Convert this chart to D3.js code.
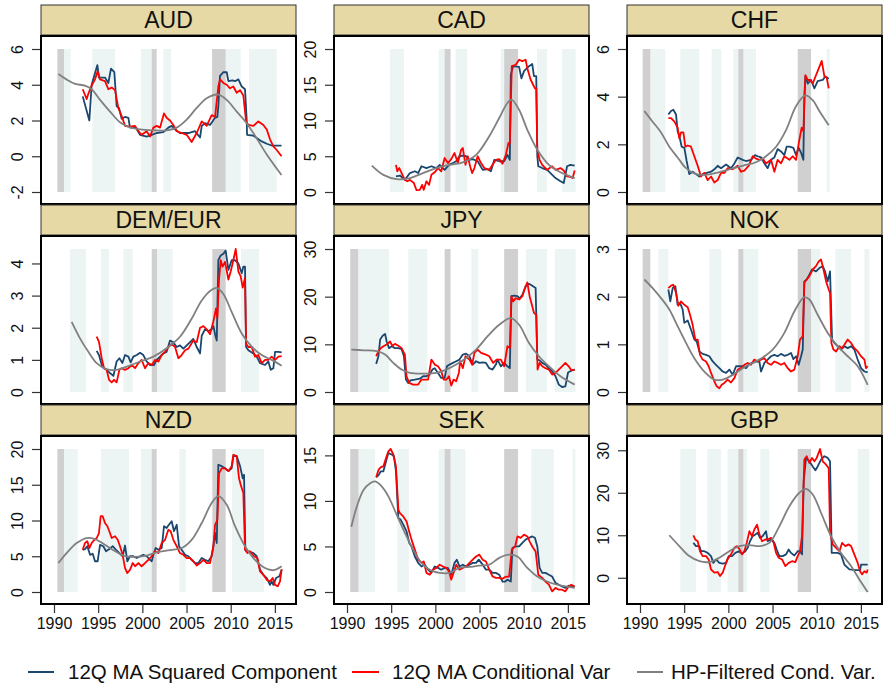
<!DOCTYPE html>
<html>
<head>
<meta charset="utf-8">
<script src="https://cdn.jsdelivr.net/npm/d3@7"></script>
<style>
  html, body { margin: 0; padding: 0; background: #ffffff; }
  svg { display: block; font-family: "Liberation Sans", Arial, sans-serif; }
</style>
</head>
<body>
<div id="chart"></div>
<script>
// ---- data: [year, value] ----
const currencies = ["AUD", "CAD", "CHF", "DEM/EUR", "JPY", "NOK", "NZD", "SEK", "GBP"];
const xTicks = [1990, 1995, 2000, 2005, 2010, 2015];

const audTicks = [-2, 0, 2, 4, 6];
const audGray = [[1990.38, 1991.13], [2001.06, 2001.62], [2007.89, 2009.43]];
const audTeal = [[1991.13, 1991.89], [1994.34, 1996.91], [1999.85, 2001.06], [2002.38, 2003.25], [2009.43, 2011.13], [2012.08, 2015.21]];
const audBlue = [[1993.25,3.35],[1994.0,2.0],[1994.26,4.0],[1994.91,5.1],[1995.09,4.4],[1995.77,4.4],[1996.15,4.1],[1996.45,4.9],[1996.83,4.7],[1997.09,2.8],[1997.36,2.7],[1997.66,2.1],[1998.04,2.2],[1998.42,2.15],[1998.6,1.6],[1999.25,1.6],[1999.74,1.2],[2000.49,1.1],[2001.06,1.2],[2001.62,1.3],[2002.38,1.35],[2002.94,1.6],[2003.32,1.7],[2003.7,1.5],[2004.26,1.3],[2005.21,1.3],[2005.96,1.4],[2006.53,1.05],[2006.72,1.7],[2007.09,1.85],[2007.66,1.75],[2008.23,2.15],[2008.49,2.2],[2008.6,2.8],[2008.79,4.5],[2009.17,4.7],[2009.55,4.7],[2009.74,4.2],[2010.19,4.25],[2010.49,4.2],[2010.87,4.3],[2011.25,3.9],[2011.62,3.75],[2011.81,2.05],[2011.85,1.2],[2012.57,1.15],[2013.51,0.83],[2014.08,0.7],[2014.64,0.6],[2015.75,0.6]];
const audRed = [[1993.25,3.75],[1993.7,3.2],[1993.89,3.5],[1994.26,3.95],[1994.64,4.3],[1994.94,4.75],[1995.21,4.3],[1995.77,4.2],[1996.15,3.75],[1996.53,3.85],[1996.91,3.7],[1997.28,2.7],[1997.66,2.25],[1998.04,1.7],[1998.6,1.65],[1999.17,1.7],[1999.55,1.4],[1999.92,1.2],[2000.49,1.4],[2000.87,1.1],[2001.25,1.6],[2001.62,1.7],[2002.0,1.6],[2002.45,2.4],[2002.75,2.15],[2003.13,2.0],[2003.51,1.75],[2003.89,1.4],[2004.45,1.3],[2005.02,1.2],[2005.58,0.8],[2006.15,1.3],[2006.72,1.95],[2007.28,1.7],[2007.85,2.3],[2008.23,2.2],[2008.6,3.9],[2008.79,4.3],[2009.17,4.1],[2009.55,4.0],[2009.92,3.8],[2010.3,3.9],[2010.68,3.55],[2011.06,3.7],[2011.43,3.4],[2011.74,1.95],[2012.0,1.75],[2012.57,1.7],[2013.13,1.95],[2013.7,1.75],[2014.08,1.5],[2014.45,0.95],[2014.83,0.55],[2015.21,0.35],[2015.75,0.0]];
const audHP = [[1990.5,4.6],[1991.4,4.3],[1992.4,4.05],[1993.5,3.95],[1994.26,3.75],[1995.21,3.15],[1996.34,2.5],[1997.47,1.9],[1998.42,1.65],[1999.74,1.5],[2001.25,1.45],[2002.75,1.45],[2003.89,1.6],[2005.02,2.05],[2006.15,2.7],[2007.28,3.25],[2008.6,3.45],[2009.55,3.15],[2010.68,2.5],[2011.81,1.85],[2012.94,1.0],[2014.08,0.1],[2015.75,-1.05]];

const cadTicks = [0, 5, 10, 15, 20];
const cadGray = [[2001.05, 2001.72], [2007.79, 2009.36]];
const cadTeal = [[1994.87, 1996.44], [2000.37, 2001.05], [2002.28, 2003.6], [2007.38, 2007.79], [2011.5, 2012.62], [2014.34, 2015.88]];
const cadBlue = [[1995.54,2.2],[1995.99,2.3],[1996.55,1.7],[1997.12,2.65],[1997.68,2.9],[1998.05,2.65],[1998.43,3.6],[1998.99,3.35],[1999.55,3.6],[2000.11,3.35],[2000.49,3.8],[2001.05,3.1],[2001.54,3.8],[2001.99,4.05],[2002.36,4.3],[2002.73,5.0],[2003.11,5.1],[2003.48,5.0],[2003.86,4.5],[2004.23,4.6],[2004.79,4.3],[2005.36,3.1],[2005.92,3.2],[2006.29,2.9],[2006.67,4.5],[2007.23,4.3],[2007.79,4.3],[2008.16,5.2],[2008.43,4.5],[2008.54,16.4],[2008.8,17.6],[2009.48,17.5],[2009.74,15.9],[2010.04,16.9],[2010.6,17.6],[2010.97,17.9],[2011.16,16.2],[2011.42,16.2],[2011.54,5.0],[2011.65,3.6],[2012.1,3.35],[2012.66,3.1],[2013.03,2.65],[2013.6,1.95],[2014.16,1.5],[2014.53,1.25],[2014.91,3.6],[2015.28,3.8],[2015.77,3.7]];
const cadRed = [[1995.54,3.8],[1995.69,2.9],[1995.92,3.35],[1996.18,2.65],[1996.55,1.7],[1996.82,1.5],[1997.12,1.7],[1997.57,1.25],[1997.87,0.25],[1998.24,0.3],[1998.5,1.0],[1998.69,0.3],[1998.99,1.5],[1999.29,1.0],[1999.55,2.4],[1999.93,2.75],[2000.3,3.35],[2000.67,2.9],[2001.05,4.75],[2001.42,4.05],[2001.8,4.6],[2002.17,5.45],[2002.55,4.05],[2002.92,5.9],[2003.11,6.15],[2003.41,3.8],[2003.67,5.0],[2003.93,3.6],[2004.16,2.65],[2004.42,3.35],[2004.79,5.0],[2005.17,4.05],[2005.54,3.35],[2006.1,3.1],[2006.48,3.8],[2006.85,4.5],[2007.23,4.6],[2007.6,3.95],[2007.98,5.2],[2008.28,6.85],[2008.43,6.85],[2008.65,17.6],[2009.1,17.8],[2009.48,18.5],[2009.85,18.3],[2010.22,18.5],[2010.41,17.3],[2010.79,15.7],[2011.27,14.5],[2011.42,14.5],[2011.54,5.9],[2011.8,4.5],[2012.1,3.8],[2012.66,3.1],[2013.22,3.6],[2013.6,3.1],[2014.16,3.35],[2014.53,3.0],[2014.91,2.2],[2015.28,2.1],[2015.54,1.95],[2015.77,3.0]];
const cadHP = [[1992.81,3.7],[1994.12,2.4],[1995.62,1.8],[1997.12,1.95],[1998.61,2.65],[2000.11,3.35],[2001.61,3.8],[2003.11,4.15],[2004.61,5.2],[2006.1,7.8],[2007.23,10.35],[2008.16,12.45],[2008.65,12.9],[2009.48,11.5],[2010.41,8.7],[2011.54,5.9],[2012.85,3.8],[2014.34,2.65],[2015.77,1.95]];

const chfTicks = [0, 2, 4, 6];
const chfGray = [[1990.3, 1991.17], [2001.13, 2001.7], [2007.85, 2009.36]];
const chfTeal = [[1991.17, 1992.87], [1994.57, 1996.72], [1998.11, 1999.21], [2000.57, 2001.13], [2001.7, 2003.13], [2011.13, 2011.47]];
const chfBlue = [[1993.21,3.25],[1993.51,3.4],[1993.77,3.45],[1994.08,3.25],[1994.26,2.55],[1994.45,2.35],[1994.72,1.9],[1995.02,1.85],[1995.28,1.3],[1995.58,0.75],[1995.96,0.85],[1996.34,0.75],[1996.72,0.65],[1997.09,0.75],[1997.55,0.8],[1998.04,0.85],[1998.42,0.95],[1998.79,1.1],[1999.17,1.0],[1999.74,1.15],[2000.3,1.0],[2000.68,1.2],[2001.06,1.45],[2001.62,1.35],[2002.0,1.3],[2002.57,1.35],[2003.02,1.55],[2003.32,1.5],[2003.7,1.45],[2004.08,1.2],[2004.45,1.0],[2004.83,1.35],[2005.21,1.45],[2005.58,1.8],[2005.96,1.7],[2006.34,1.55],[2006.6,1.9],[2006.91,1.9],[2007.36,1.85],[2007.66,1.55],[2007.96,1.85],[2008.23,1.65],[2008.49,1.35],[2008.6,4.0],[2008.72,4.85],[2008.98,4.55],[2009.36,4.7],[2009.74,4.35],[2010.11,4.65],[2010.68,4.7],[2010.98,4.85],[2011.36,4.75]];
const chfRed = [[1993.21,3.1],[1993.51,3.1],[1993.89,2.95],[1994.26,2.7],[1994.45,2.25],[1994.64,2.5],[1994.91,2.5],[1995.13,1.9],[1995.4,1.95],[1995.77,1.9],[1996.15,1.5],[1996.53,1.1],[1996.91,0.65],[1997.28,0.8],[1997.66,0.5],[1998.04,0.65],[1998.42,0.4],[1998.79,0.5],[1999.17,0.8],[1999.55,0.8],[1999.92,1.0],[2000.49,0.95],[2001.06,1.1],[2001.43,0.85],[2001.81,0.9],[2002.3,1.1],[2002.75,1.5],[2003.13,1.4],[2003.51,1.35],[2003.89,1.4],[2004.26,1.2],[2004.83,1.35],[2005.21,0.85],[2005.58,1.35],[2005.96,1.2],[2006.34,1.5],[2006.91,1.35],[2007.28,1.5],[2007.66,1.35],[2008.04,2.2],[2008.3,2.7],[2008.49,2.55],[2008.72,4.9],[2008.98,4.7],[2009.25,4.7],[2009.55,4.55],[2009.92,4.9],[2010.3,5.25],[2010.57,5.5],[2010.87,4.85],[2011.13,4.8],[2011.36,4.35]];
const chfHP = [[1990.49,3.4],[1991.43,2.95],[1992.38,2.5],[1993.32,1.9],[1994.26,1.45],[1995.21,1.0],[1996.34,0.75],[1997.47,0.72],[1998.6,0.8],[2000.11,0.95],[2001.62,1.1],[2003.13,1.25],[2004.26,1.5],[2005.4,1.9],[2006.53,2.6],[2007.66,3.6],[2008.72,4.05],[2009.55,3.85],[2010.3,3.4],[2011.36,2.8]];

const demTicks = [0, 1, 2, 3, 4];
const demGray = [[2001.06, 2001.66], [2007.92, 2009.43]];
const demTeal = [[1991.81, 1993.62], [1995.32, 1996.23], [1997.85, 1998.91], [2001.66, 2003.43], [2011.17, 2013.21]];
const demBlue = [[1994.83,1.28],[1995.09,1.15],[1995.4,0.85],[1995.66,0.74],[1995.96,0.69],[1996.34,0.59],[1996.72,0.5],[1997.09,0.95],[1997.4,1.05],[1997.74,0.9],[1998.04,1.15],[1998.42,1.1],[1998.68,0.92],[1998.98,1.1],[1999.36,1.15],[1999.74,1.22],[2000.11,1.15],[2000.49,0.95],[2000.87,0.84],[2001.32,0.84],[2001.62,1.0],[2002.0,1.1],[2002.38,1.2],[2002.75,1.25],[2003.13,1.6],[2003.51,1.55],[2003.89,1.4],[2004.26,1.45],[2004.64,1.35],[2005.02,1.45],[2005.4,1.55],[2005.77,1.65],[2006.15,1.4],[2006.53,1.2],[2006.72,1.75],[2007.09,1.95],[2007.47,1.9],[2007.85,1.95],[2008.04,2.05],[2008.23,1.8],[2008.42,1.6],[2008.6,4.1],[2008.87,4.25],[2009.17,4.3],[2009.43,4.4],[2009.74,3.8],[2010.11,4.1],[2010.49,4.1],[2010.87,4.0],[2011.25,3.7],[2011.43,3.9],[2011.62,3.9],[2011.74,1.4],[2012.0,1.3],[2012.57,1.2],[2012.94,1.1],[2013.32,0.9],[2013.89,0.84],[2014.26,0.95],[2014.53,0.69],[2014.83,0.74],[2015.02,1.25],[2015.4,1.25],[2015.77,1.23]];
const demRed = [[1994.83,1.72],[1995.09,1.56],[1995.4,1.05],[1995.66,0.74],[1995.96,0.69],[1996.23,0.38],[1996.53,0.3],[1996.79,0.38],[1997.09,0.3],[1997.4,0.69],[1997.66,0.74],[1998.04,0.69],[1998.42,0.74],[1998.79,0.84],[1999.17,0.74],[1999.55,0.9],[1999.92,1.0],[2000.3,0.74],[2000.68,0.9],[2001.06,0.84],[2001.43,1.0],[2001.81,0.95],[2002.19,1.15],[2002.57,1.25],[2002.94,1.4],[2003.32,1.5],[2003.7,1.4],[2004.08,1.05],[2004.45,1.15],[2004.83,1.3],[2005.21,1.35],[2005.77,1.6],[2006.15,1.55],[2006.53,2.0],[2006.91,2.05],[2007.28,1.95],[2007.66,1.8],[2008.04,2.2],[2008.34,2.6],[2008.49,2.3],[2008.68,3.5],[2008.87,4.1],[2009.09,3.9],[2009.36,4.05],[2009.74,3.5],[2010.0,3.75],[2010.3,4.1],[2010.57,4.45],[2010.87,3.75],[2011.13,3.6],[2011.36,3.25],[2011.62,3.55],[2011.74,1.5],[2012.0,1.4],[2012.38,1.4],[2012.75,1.1],[2013.13,1.15],[2013.51,0.9],[2013.89,1.0],[2014.26,1.0],[2014.64,1.1],[2015.02,1.0],[2015.4,1.1],[2015.77,1.12]];
const demHP = [[1992.0,2.18],[1992.94,1.67],[1993.89,1.25],[1994.83,0.9],[1995.96,0.71],[1997.09,0.69],[1998.23,0.79],[1999.74,0.95],[2001.25,1.1],[2002.75,1.36],[2004.26,1.72],[2005.58,2.28],[2006.72,2.85],[2007.85,3.18],[2008.42,3.24],[2009.17,3.05],[2010.11,2.49],[2011.25,1.82],[2012.38,1.41],[2013.51,1.15],[2014.64,1.0],[2015.77,0.82]];

const jpyTicks = [0, 10, 20, 30];
const jpyGray = [[1990.37, 1991.27], [2001.05, 2001.72], [2007.79, 2009.36]];
const jpyTeal = [[1991.27, 1994.76], [1996.93, 1999.1], [2004.08, 2004.87], [2010.26, 2012.62], [2013.52, 2015.88]];
const jpyBlue = [[1993.3,5.9],[1993.56,7.5],[1993.75,11.0],[1994.04,11.8],[1994.31,12.2],[1994.49,10.6],[1994.76,9.2],[1995.06,9.6],[1995.43,9.2],[1995.81,9.2],[1996.18,9.0],[1996.44,7.5],[1996.67,2.6],[1996.93,1.9],[1997.19,2.45],[1997.68,2.6],[1998.24,2.8],[1998.61,3.3],[1998.99,3.3],[1999.36,3.65],[1999.66,4.7],[1999.93,5.0],[2000.3,4.0],[2000.67,2.95],[2001.05,2.95],[2001.31,5.4],[2001.61,5.75],[2001.99,6.1],[2002.36,6.45],[2002.73,6.8],[2003.11,7.85],[2003.48,8.05],[2003.86,7.5],[2004.23,5.75],[2004.61,6.45],[2004.98,6.1],[2005.36,6.2],[2005.73,6.1],[2006.1,5.0],[2006.48,4.7],[2006.85,5.75],[2007.04,6.8],[2007.42,5.4],[2007.79,6.1],[2008.16,5.4],[2008.43,5.0],[2008.61,20.1],[2008.91,20.2],[2009.29,20.1],[2009.55,19.65],[2009.85,20.4],[2010.22,22.2],[2010.6,22.7],[2010.97,22.3],[2011.35,21.8],[2011.54,6.8],[2011.8,6.65],[2012.1,6.1],[2012.47,5.75],[2012.85,5.0],[2013.22,4.35],[2013.6,3.3],[2013.97,1.55],[2014.34,1.05],[2014.72,1.2],[2015.02,4.1],[2015.47,4.55],[2015.77,4.7]];
const jpyRed = [[1993.3,7.5],[1993.56,8.55],[1993.82,9.2],[1994.12,9.6],[1994.49,9.95],[1994.87,10.6],[1995.13,9.7],[1995.43,10.1],[1995.81,9.7],[1996.18,9.2],[1996.55,7.85],[1996.74,3.3],[1997.04,1.9],[1997.49,1.55],[1998.05,1.55],[1998.43,2.6],[1998.8,2.6],[1999.18,2.6],[1999.55,6.8],[1999.93,5.75],[2000.3,5.4],[2000.67,4.35],[2000.94,2.6],[2001.24,2.6],[2001.54,3.3],[2001.8,1.35],[2002.06,2.6],[2002.36,2.25],[2002.66,4.0],[2002.81,6.45],[2003.11,5.0],[2003.41,7.5],[2003.86,6.8],[2004.16,5.75],[2004.42,8.2],[2004.79,8.9],[2005.17,8.2],[2005.73,7.85],[2006.1,7.5],[2006.55,6.1],[2006.93,6.8],[2007.42,6.8],[2007.79,5.4],[2008.16,9.6],[2008.43,9.2],[2008.61,20.1],[2008.8,19.0],[2009.1,19.7],[2009.48,19.4],[2009.85,20.1],[2010.15,21.8],[2010.41,23.0],[2010.67,20.1],[2010.97,18.0],[2011.16,16.6],[2011.42,16.2],[2011.57,4.7],[2011.8,6.1],[2012.1,5.4],[2012.47,5.0],[2012.85,4.7],[2013.22,3.65],[2013.6,4.0],[2013.97,4.7],[2014.34,5.4],[2014.72,6.1],[2015.09,5.4],[2015.39,4.55],[2015.77,4.7]];
const jpyHP = [[1990.49,8.9],[1991.87,8.75],[1993.37,8.55],[1994.31,7.85],[1995.24,6.1],[1996.18,4.7],[1997.12,4.0],[1998.61,3.85],[2000.11,4.0],[2001.24,4.7],[2002.36,5.75],[2003.48,7.15],[2004.61,8.9],[2005.92,11.7],[2007.23,14.1],[2008.54,15.5],[2009.48,14.1],[2010.6,10.3],[2011.72,7.5],[2012.85,5.4],[2014.16,3.3],[2015.77,1.55]];

const nokTicks = [0, 1, 2, 3];
const nokGray = [[1990.3, 1991.17], [2001.13, 2001.7], [2007.85, 2009.36]];
const nokTeal = [[1992.08, 1993.21], [1997.85, 1999.21], [2001.7, 2003.4], [2009.36, 2010.42], [2012.11, 2013.89], [2015.4, 2015.96]];
const nokBlue = [[1993.21,2.15],[1993.43,1.9],[1993.7,2.18],[1994.0,2.22],[1994.26,1.83],[1994.53,1.87],[1994.83,1.73],[1995.02,1.45],[1995.4,1.5],[1995.77,1.31],[1996.15,1.1],[1996.42,1.06],[1996.72,0.85],[1997.09,0.8],[1997.47,0.78],[1997.85,0.75],[1998.23,0.64],[1998.6,0.57],[1998.98,0.5],[1999.36,0.43],[1999.74,0.4],[2000.11,0.47],[2000.49,0.36],[2000.87,0.54],[2001.25,0.54],[2001.62,0.54],[2002.0,0.5],[2002.38,0.59],[2002.75,0.61],[2003.13,0.64],[2003.51,0.64],[2003.7,0.43],[2004.08,0.61],[2004.45,0.68],[2004.83,0.75],[2005.21,0.78],[2005.58,0.75],[2005.96,0.8],[2006.34,0.76],[2006.72,0.78],[2007.09,0.82],[2007.36,0.69],[2007.66,0.75],[2007.96,0.57],[2008.23,0.75],[2008.42,0.89],[2008.6,2.32],[2008.87,2.36],[2009.17,2.46],[2009.47,2.57],[2009.92,2.53],[2010.3,2.6],[2010.68,2.64],[2010.94,2.53],[2011.25,2.32],[2011.51,2.53],[2011.74,1.1],[2012.0,1.03],[2012.38,0.96],[2012.75,0.89],[2013.13,0.96],[2013.51,0.92],[2013.89,0.96],[2014.26,0.89],[2014.64,0.68],[2015.02,0.5],[2015.4,0.43],[2015.77,0.41]];
const nokRed = [[1993.21,2.18],[1993.51,2.23],[1993.77,2.25],[1994.08,2.08],[1994.34,1.81],[1994.64,1.9],[1995.02,1.83],[1995.4,1.78],[1995.66,1.62],[1995.96,1.41],[1996.26,1.1],[1996.53,1.1],[1996.79,0.78],[1997.09,0.68],[1997.47,0.64],[1997.77,0.54],[1998.04,0.4],[1998.42,0.22],[1998.68,0.12],[1998.98,0.08],[1999.25,0.15],[1999.55,0.19],[1999.92,0.26],[2000.3,0.2],[2000.68,0.29],[2001.06,0.47],[2001.43,0.5],[2001.81,0.57],[2002.19,0.61],[2002.57,0.57],[2002.94,0.68],[2003.32,0.64],[2003.7,0.68],[2004.08,0.71],[2004.45,0.61],[2004.83,0.57],[2005.21,0.64],[2005.58,0.61],[2005.96,0.57],[2006.34,0.61],[2006.72,0.5],[2007.09,0.43],[2007.47,0.47],[2007.85,0.75],[2008.11,1.1],[2008.42,1.17],[2008.6,2.29],[2008.87,2.36],[2009.17,2.43],[2009.55,2.57],[2009.92,2.64],[2010.23,2.74],[2010.49,2.78],[2010.68,2.64],[2011.06,2.32],[2011.36,2.15],[2011.51,2.08],[2011.66,1.03],[2011.89,0.89],[2012.19,0.85],[2012.57,0.96],[2012.87,0.92],[2013.13,0.99],[2013.51,1.1],[2013.89,1.03],[2014.26,0.92],[2014.64,0.85],[2015.02,0.75],[2015.4,0.68],[2015.58,0.5],[2015.77,0.54]];
const nokHP = [[1990.49,2.36],[1991.43,2.18],[1992.38,1.97],[1993.32,1.73],[1994.26,1.38],[1995.21,1.03],[1996.15,0.71],[1997.28,0.43],[1998.42,0.26],[1999.36,0.26],[2000.49,0.36],[2002.0,0.54],[2003.51,0.68],[2005.02,0.89],[2006.34,1.24],[2007.47,1.69],[2008.6,1.99],[2009.17,1.94],[2010.11,1.62],[2011.25,1.24],[2012.38,0.96],[2013.51,0.75],[2014.64,0.54],[2015.77,0.15]];

const nzdTicks = [0, 5, 10, 15, 20];
const nzdGray = [[1990.38, 1991.13], [2001.06, 2001.62], [2007.92, 2009.43]];
const nzdTeal = [[1991.13, 1992.68], [1995.32, 1998.49], [1999.85, 2001.06], [2004.19, 2004.91], [2010.15, 2013.77]];
const nzdBlue = [[1993.25,5.9],[1993.51,6.0],[1993.77,6.4],[1994.08,5.2],[1994.38,5.35],[1994.64,4.3],[1994.94,4.3],[1995.21,6.6],[1995.58,6.4],[1995.89,5.7],[1996.26,6.0],[1996.64,6.4],[1997.02,5.9],[1997.4,5.45],[1997.77,5.0],[1998.04,6.5],[1998.3,4.3],[1998.6,5.0],[1998.98,5.0],[1999.36,4.75],[1999.74,5.0],[2000.11,5.2],[2000.49,5.0],[2000.87,4.5],[2001.06,4.3],[2001.25,5.2],[2001.51,6.15],[2001.81,5.9],[2002.19,6.15],[2002.45,9.2],[2002.75,8.95],[2002.94,9.3],[2003.32,9.9],[2003.58,8.5],[2003.89,9.4],[2004.15,6.4],[2004.45,5.9],[2004.83,5.2],[2005.21,5.0],[2005.58,4.5],[2005.96,4.05],[2006.34,4.05],[2006.72,4.75],[2007.09,4.5],[2007.47,4.3],[2007.85,5.0],[2008.04,6.4],[2008.23,8.25],[2008.42,6.85],[2008.6,17.8],[2008.98,17.6],[2009.36,17.3],[2009.74,16.9],[2010.11,17.3],[2010.3,19.0],[2010.68,19.0],[2011.06,17.6],[2011.36,15.9],[2011.51,16.4],[2011.66,5.9],[2012.0,5.7],[2012.57,5.45],[2012.94,5.0],[2013.32,3.1],[2013.7,2.4],[2014.08,1.95],[2014.45,1.0],[2014.64,1.5],[2014.83,1.0],[2015.13,1.95],[2015.51,2.2],[2015.77,3.1]];
const nzdRed = [[1993.25,5.9],[1993.51,6.85],[1993.77,7.1],[1994.0,6.15],[1994.26,6.85],[1994.57,7.3],[1994.83,7.55],[1995.09,8.25],[1995.28,10.6],[1995.51,10.6],[1995.77,9.65],[1996.04,9.2],[1996.26,8.5],[1996.53,7.55],[1996.91,7.8],[1997.21,7.3],[1997.47,6.4],[1997.77,5.2],[1998.04,3.35],[1998.3,2.65],[1998.6,3.1],[1998.91,4.05],[1999.17,3.6],[1999.55,4.05],[1999.92,3.6],[2000.3,4.05],[2000.68,4.5],[2001.06,5.0],[2001.43,5.7],[2001.81,5.45],[2002.19,6.85],[2002.57,7.3],[2002.94,8.7],[2003.21,8.5],[2003.51,7.3],[2003.89,6.4],[2004.26,5.45],[2004.64,5.2],[2005.02,4.75],[2005.4,4.75],[2005.77,4.3],[2006.15,3.7],[2006.53,4.05],[2006.91,4.5],[2007.28,4.05],[2007.66,4.05],[2008.04,6.4],[2008.23,9.4],[2008.49,10.1],[2008.68,16.6],[2008.98,17.3],[2009.36,17.3],[2009.74,16.9],[2010.11,17.6],[2010.3,19.2],[2010.68,19.0],[2010.94,15.9],[2011.13,15.0],[2011.43,13.85],[2011.62,5.9],[2011.89,5.45],[2012.19,5.7],[2012.64,5.0],[2013.02,4.75],[2013.32,2.9],[2013.7,2.4],[2014.08,1.7],[2014.45,1.5],[2014.75,1.95],[2015.02,1.0],[2015.32,0.8],[2015.58,1.5],[2015.77,3.2]];
const nzdHP = [[1990.49,4.05],[1991.43,5.45],[1992.57,6.85],[1993.7,7.55],[1994.64,7.4],[1995.58,6.75],[1996.72,5.85],[1997.85,5.1],[1998.98,4.9],[2000.49,5.1],[2001.62,5.55],[2003.13,5.85],[2004.45,6.15],[2005.58,7.3],[2006.72,9.65],[2007.85,12.45],[2008.6,13.4],[2009.55,12.2],[2010.49,9.2],[2011.62,6.4],[2012.75,4.5],[2013.89,3.35],[2014.83,3.05],[2015.77,3.6]];

const sekTicks = [0, 5, 10, 15];
const sekGray = [[1990.37, 1991.31], [2001.05, 2001.72], [2007.79, 2009.36]];
const sekTeal = [[1991.31, 1993.18], [1995.69, 1997.0], [2000.37, 2001.05], [2001.72, 2003.41], [2010.86, 2013.41], [2015.54, 2015.84]];
const sekBlue = [[1993.3,12.6],[1993.56,12.8],[1993.82,13.25],[1994.12,13.25],[1994.42,14.35],[1994.68,15.25],[1995.06,15.1],[1995.32,14.9],[1995.54,13.25],[1995.81,8.1],[1996.07,7.95],[1996.37,7.4],[1996.74,6.65],[1997.04,5.4],[1997.3,5.0],[1997.68,3.9],[1998.05,3.2],[1998.43,2.8],[1998.8,3.0],[1999.18,2.45],[1999.55,2.1],[1999.93,2.8],[2000.3,2.65],[2000.67,2.45],[2001.05,2.65],[2001.42,2.65],[2001.8,1.9],[2002.17,3.2],[2002.43,3.55],[2002.73,2.8],[2003.11,3.0],[2003.48,2.8],[2003.86,3.0],[2004.23,3.2],[2004.61,3.2],[2004.91,3.55],[2005.36,3.0],[2005.73,2.45],[2006.1,2.45],[2006.48,2.1],[2006.85,2.1],[2007.23,1.9],[2007.6,1.15],[2007.9,1.15],[2008.16,1.35],[2008.54,1.15],[2008.73,4.85],[2009.1,5.0],[2009.48,5.0],[2009.85,5.4],[2010.22,5.75],[2010.6,5.95],[2010.97,6.1],[2011.27,5.95],[2011.54,5.0],[2011.8,2.65],[2012.1,2.1],[2012.47,2.1],[2012.85,1.9],[2013.22,1.7],[2013.6,1.0],[2013.97,0.8],[2014.34,0.6],[2014.72,0.45],[2015.09,0.7],[2015.47,0.6],[2015.77,0.6]];
const sekRed = [[1993.3,12.6],[1993.56,13.4],[1993.82,13.7],[1994.12,13.8],[1994.42,14.7],[1994.68,15.45],[1994.94,15.7],[1995.24,15.1],[1995.54,13.8],[1995.81,9.05],[1995.99,8.65],[1996.37,8.3],[1996.74,7.75],[1997.04,6.65],[1997.3,5.75],[1997.68,4.65],[1998.05,3.55],[1998.43,3.2],[1998.69,3.35],[1998.99,2.1],[1999.36,1.9],[1999.74,2.45],[2000.11,2.65],[2000.49,3.0],[2000.86,2.8],[2001.24,2.65],[2001.54,2.25],[2001.8,1.35],[2002.06,2.1],[2002.36,3.0],[2002.73,2.45],[2003.11,2.65],[2003.48,2.8],[2003.86,3.2],[2004.23,3.55],[2004.61,3.9],[2004.98,4.1],[2005.36,3.55],[2005.73,3.35],[2006.1,2.45],[2006.48,1.7],[2006.85,1.55],[2007.23,1.55],[2007.6,1.45],[2007.9,1.65],[2008.35,1.7],[2008.65,4.65],[2009.03,5.0],[2009.29,6.1],[2009.66,5.95],[2010.04,6.3],[2010.41,6.1],[2010.67,5.55],[2010.97,5.0],[2011.35,4.45],[2011.65,1.9],[2012.1,1.55],[2012.47,1.15],[2012.85,0.8],[2013.22,0.07],[2013.6,0.45],[2013.97,0.25],[2014.34,0.25],[2014.72,0.07],[2015.09,0.6],[2015.39,0.8],[2015.77,0.6]];
const sekHP = [[1990.49,7.15],[1991.12,9.4],[1991.87,11.2],[1992.62,11.95],[1993.18,12.15],[1993.93,11.6],[1994.68,10.5],[1995.62,8.5],[1996.55,6.5],[1997.49,4.65],[1998.43,3.2],[1999.36,2.45],[2000.49,2.1],[2001.61,2.1],[2002.73,2.65],[2003.86,2.75],[2004.98,2.9],[2006.1,3.0],[2007.23,3.75],[2008.35,4.1],[2009.29,3.9],[2010.41,2.65],[2011.54,1.7],[2012.66,1.15],[2013.78,0.8],[2015.77,0.45]];

const gbpTicks = [0, 10, 20, 30];
const gbpGray = [[2001.13, 2001.7], [2007.85, 2009.36]];
const gbpTeal = [[1994.57, 1996.34], [1997.62, 1999.17], [1999.92, 2001.13], [2001.7, 2002.11], [2003.62, 2004.64], [2014.64, 2015.96]];
const gbpBlue = [[1996.04,8.2],[1996.34,7.45],[1996.72,7.45],[1996.91,6.25],[1997.28,6.25],[1997.66,5.85],[1998.04,5.1],[1998.3,3.5],[1998.6,4.3],[1998.98,3.5],[1999.36,3.35],[1999.74,3.5],[2000.04,5.1],[2000.42,5.1],[2000.79,5.85],[2001.17,6.25],[2001.55,5.7],[2001.92,6.25],[2002.19,7.05],[2002.45,8.6],[2002.75,9.8],[2003.06,10.2],[2003.32,10.6],[2003.58,9.4],[2003.89,9.8],[2004.26,10.95],[2004.45,8.6],[2004.83,9.0],[2005.21,8.2],[2005.47,6.65],[2005.77,5.1],[2006.15,5.1],[2006.53,5.5],[2006.83,6.65],[2007.09,5.85],[2007.47,5.25],[2007.85,6.25],[2008.11,6.25],[2008.34,5.5],[2008.53,22.7],[2008.79,28.2],[2009.17,27.4],[2009.55,26.2],[2009.85,25.3],[2010.11,26.2],[2010.49,27.8],[2010.87,28.6],[2011.25,28.2],[2011.51,27.4],[2011.7,5.85],[2012.0,5.85],[2012.38,5.85],[2012.75,5.5],[2013.13,3.1],[2013.7,1.95],[2014.45,1.8],[2014.91,1.8],[2015.02,3.1],[2015.77,3.1]];
const gbpRed = [[1996.04,9.95],[1996.26,9.0],[1996.53,8.6],[1996.79,6.25],[1997.09,5.1],[1997.47,5.1],[1997.77,4.3],[1998.04,1.95],[1998.42,1.2],[1998.79,1.35],[1999.06,0.4],[1999.36,1.2],[1999.62,2.75],[1999.92,4.45],[2000.3,5.5],[2000.68,7.05],[2000.94,7.45],[2001.25,6.8],[2001.55,5.5],[2001.81,6.25],[2002.08,8.2],[2002.38,10.95],[2002.68,9.8],[2002.94,11.35],[2003.25,12.5],[2003.51,10.2],[2003.81,8.6],[2004.19,9.0],[2004.45,9.0],[2004.83,9.4],[2005.09,8.6],[2005.4,5.85],[2005.7,4.7],[2006.08,4.3],[2006.45,2.75],[2006.83,3.5],[2007.21,3.9],[2007.58,3.7],[2007.85,5.1],[2008.11,6.25],[2008.34,9.8],[2008.6,27.8],[2008.87,28.6],[2009.17,27.0],[2009.47,28.2],[2009.74,27.4],[2010.0,28.2],[2010.38,30.3],[2010.68,27.4],[2011.06,26.6],[2011.36,25.8],[2011.51,10.6],[2011.81,7.85],[2012.19,7.05],[2012.57,6.25],[2012.87,8.2],[2013.25,7.45],[2013.62,7.85],[2013.89,7.45],[2014.26,5.5],[2014.64,3.5],[2014.91,1.55],[2015.13,0.8],[2015.4,1.55],[2015.66,1.2],[2015.77,1.95]];
const gbpHP = [[1993.32,10.0],[1994.45,7.45],[1995.58,5.1],[1996.72,3.9],[1997.85,3.7],[1998.98,4.7],[2000.11,6.25],[2001.25,7.45],[2002.38,7.7],[2003.51,7.45],[2004.64,8.2],[2005.77,12.1],[2006.91,16.85],[2008.04,20.0],[2008.79,20.9],[2009.55,19.6],[2010.49,15.3],[2011.62,9.8],[2012.75,5.85],[2013.89,2.75],[2014.83,-0.4],[2015.77,-3.35]];

const legendLabels = ["12Q MA Squared Component", "12Q MA Conditional Var", "HP-Filtered Cond. Var."];

// table built from the arrays above
const panels = [
  { name: currencies[0], ticks: audTicks, gray: audGray, teal: audTeal, blue: audBlue, red: audRed, hp: audHP },
  { name: currencies[1], ticks: cadTicks, gray: cadGray, teal: cadTeal, blue: cadBlue, red: cadRed, hp: cadHP },
  { name: currencies[2], ticks: chfTicks, gray: chfGray, teal: chfTeal, blue: chfBlue, red: chfRed, hp: chfHP },
  { name: currencies[3], ticks: demTicks, gray: demGray, teal: demTeal, blue: demBlue, red: demRed, hp: demHP },
  { name: currencies[4], ticks: jpyTicks, gray: jpyGray, teal: jpyTeal, blue: jpyBlue, red: jpyRed, hp: jpyHP },
  { name: currencies[5], ticks: nokTicks, gray: nokGray, teal: nokTeal, blue: nokBlue, red: nokRed, hp: nokHP },
  { name: currencies[6], ticks: nzdTicks, gray: nzdGray, teal: nzdTeal, blue: nzdBlue, red: nzdRed, hp: nzdHP },
  { name: currencies[7], ticks: sekTicks, gray: sekGray, teal: sekTeal, blue: sekBlue, red: sekRed, hp: sekHP },
  { name: currencies[8], ticks: gbpTicks, gray: gbpGray, teal: gbpTeal, blue: gbpBlue, red: gbpRed, hp: gbpHP }
];

// ---- layout ----
const W = 885, H = 689;
const colX = [41, 334, 627];
const rowY = [5, 205, 405];
const boxW = 255, stripH = 30, boxH = 168;
const BLUE = "#1a476f", RED = "#ff0000", HPGRAY = "#808080";

const svg = d3.select("#chart").append("svg")
  .attr("width", W).attr("height", H)
  .attr("viewBox", `0 0 ${W} ${H}`);

panels.forEach((p, i) => {
  const col = i % 3, row = Math.floor(i / 3);
  const left = colX[col];
  const top = rowY[row];
  const boxTop = top + stripH + 1;
  const boxBottom = boxTop + boxH;
  const g = svg.append("g");

  // strip header
  g.append("rect")
    .attr("x", left).attr("y", top).attr("width", boxW).attr("height", stripH)
    .attr("fill", "#e6d9a6").attr("stroke", "#333").attr("stroke-width", 1);
  g.append("text")
    .attr("x", left + boxW / 2).attr("y", top + stripH / 2)
    .attr("dy", "0.36em").attr("text-anchor", "middle")
    .attr("font-size", 23).attr("fill", "#111")
    .text(p.name);

  // plot box background
  g.append("rect")
    .attr("x", left).attr("y", boxTop).attr("width", boxW).attr("height", boxH)
    .attr("fill", "#fff");

  const x = d3.scaleLinear().domain([1990, 2015.75]).range([left + 13, left + boxW - 14.5]);
  const all = p.blue.concat(p.red, p.hp).map(d => d[1]);
  const lo = Math.min(p.ticks[0], d3.min(all));
  const hi = Math.max(p.ticks[p.ticks.length - 1], d3.max(all));
  const y = d3.scaleLinear().domain([lo, hi]).range([boxBottom - 12, boxTop + 13]);

  // shaded periods
  g.append("g").selectAll("rect").data(p.teal).join("rect")
    .attr("x", d => x(d[0])).attr("width", d => x(d[1]) - x(d[0]))
    .attr("y", y(hi)).attr("height", y(lo) - y(hi))
    .attr("fill", "#edf4f4");
  g.append("g").selectAll("rect").data(p.gray).join("rect")
    .attr("x", d => x(d[0])).attr("width", d => x(d[1]) - x(d[0]))
    .attr("y", y(hi)).attr("height", y(lo) - y(hi))
    .attr("fill", "#d0d0d0");

  const line = d3.line().x(d => x(d[0])).y(d => y(d[1]));
  const smooth = d3.line().x(d => x(d[0])).y(d => y(d[1])).curve(d3.curveCatmullRom.alpha(0.5));

  g.append("path").datum(p.blue).attr("d", line)
    .attr("fill", "none").attr("stroke", BLUE).attr("stroke-width", 1.8).attr("stroke-linejoin", "round");
  g.append("path").datum(p.red).attr("d", line)
    .attr("fill", "none").attr("stroke", RED).attr("stroke-width", 1.8).attr("stroke-linejoin", "round");
  g.append("path").datum(p.hp).attr("d", smooth)
    .attr("fill", "none").attr("stroke", HPGRAY).attr("stroke-width", 1.8);

  // box outline
  g.append("rect")
    .attr("x", left).attr("y", boxTop).attr("width", boxW).attr("height", boxH)
    .attr("fill", "none").attr("stroke", "#000").attr("stroke-width", 2);

  // y axis with rotated labels
  const yAxis = g.append("g")
    .attr("transform", `translate(${left - 1},0)`)
    .call(d3.axisLeft(y).tickValues(p.ticks).tickSize(8).tickSizeOuter(0).tickFormat(d3.format("d")));
  yAxis.select(".domain").remove();
  yAxis.selectAll("line").attr("stroke", "#333").attr("stroke-width", 1.2);
  yAxis.selectAll("text")
    .attr("x", null).attr("dy", null)
    .attr("text-anchor", "middle")
    .attr("transform", "translate(-17,0) rotate(-90)")
    .attr("font-size", 16).attr("fill", "#111")
    .attr("font-family", "Liberation Sans, Arial, sans-serif")
    .text(d => d < 0 ? "-" + Math.abs(d) : d);

  // x axis on bottom row
  if (row === 2) {
    const xAxis = g.append("g")
      .attr("transform", `translate(0,${boxBottom + 1})`)
      .call(d3.axisBottom(x).tickValues(xTicks).tickSize(8).tickSizeOuter(0).tickPadding(5).tickFormat(d3.format("d")));
    xAxis.select(".domain").remove();
    xAxis.selectAll("line").attr("stroke", "#333").attr("stroke-width", 1.2);
    xAxis.selectAll("text")
      .attr("font-size", 16).attr("fill", "#111")
      .attr("font-family", "Liberation Sans, Arial, sans-serif");
  }
});

// legend
const legendItems = [
  { label: legendLabels[0], color: BLUE, x1: 28, x2: 54, tx: 68 },
  { label: legendLabels[1], color: RED, x1: 352, x2: 379, tx: 392 },
  { label: legendLabels[2], color: HPGRAY, x1: 637, x2: 663, tx: 671 }
];
const lg = svg.append("g");
legendItems.forEach(it => {
  lg.append("line").attr("x1", it.x1).attr("x2", it.x2).attr("y1", 672).attr("y2", 672)
    .attr("stroke", it.color).attr("stroke-width", 2);
  lg.append("text").attr("x", it.tx).attr("y", 672).attr("dy", "0.35em")
    .attr("font-size", 20.5).attr("fill", "#111").text(it.label);
});
</script>
</body>
</html>
